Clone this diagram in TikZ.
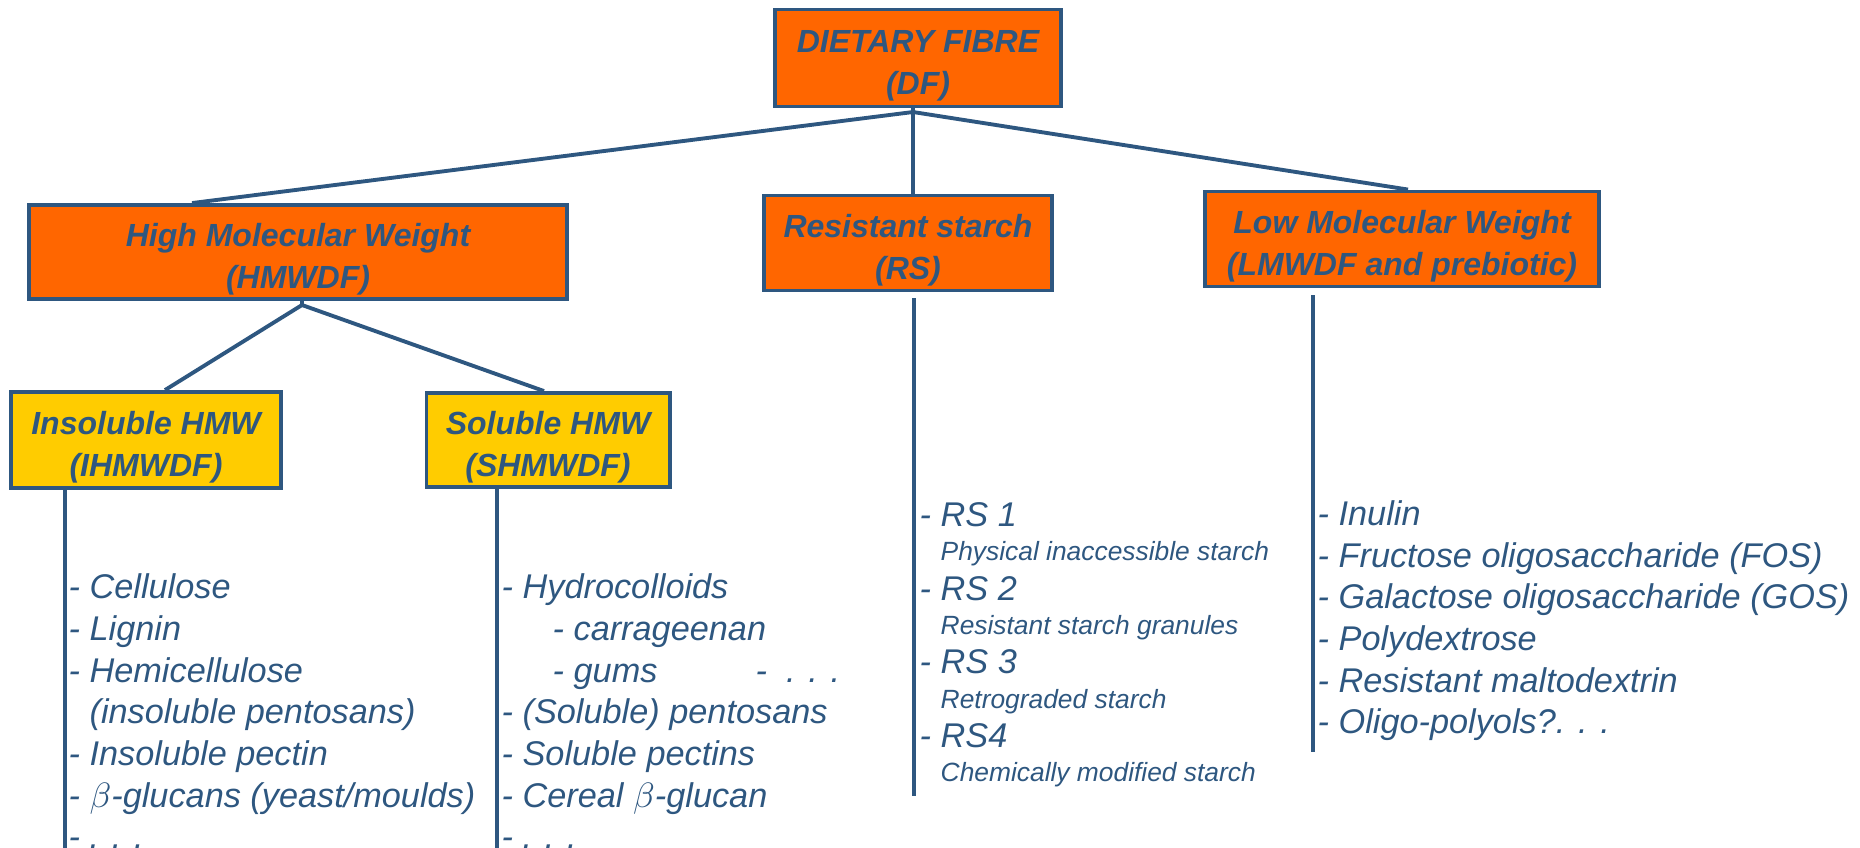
\documentclass[tikz,border=0pt]{standalone}
\usepackage{fontspec}
\setmainfont{Liberation Sans}
\usetikzlibrary{calc}

\definecolor{dfblue}{HTML}{2E5780}
\definecolor{dforange}{HTML}{FF6600}
\definecolor{dfyellow}{HTML}{FFCC00}

% strut that pushes the box text a little down
\newcommand{\boxstrut}{\rule{0pt}{10.6pt}}

\tikzset{
  orangebox/.style={draw=dfblue, line width=1.1pt, fill=dforange, align=center,
    inner sep=0pt, text=dfblue, font=\bfseries\itshape\fontsize{9.1}{11.8}\selectfont},
  yellowbox/.style={orangebox, fill=dfyellow},
  item/.style={anchor=base west, inner sep=0pt, text=dfblue,
    font=\itshape\fontsize{9.75}{11.8}\selectfont},
  smallitem/.style={item, font=\itshape\fontsize{7.5}{9}\selectfont},
  link/.style={draw=dfblue, line width=1.1pt}
}

\begin{document}
\begin{tikzpicture}[x=0.01cm, y=-0.01cm]

% Fix the page to the picture size (pixels, y pointing down)
\clip (0,0) rectangle (1860,847);

% Define the boxes
\node[orangebox, minimum width=2.86cm, minimum height=0.97cm] (df) at (918,58) {\boxstrut DIETARY FIBRE\\(DF)};
\node[orangebox, minimum width=5.38cm, minimum height=0.94cm] (hmw) at (298,252) {\boxstrut High Molecular Weight\\(HMWDF)};
\node[orangebox, minimum width=2.87cm, minimum height=0.95cm] (rs) at (908,243) {\boxstrut Resistant starch\\(RS)};
\node[orangebox, minimum width=3.93cm, minimum height=0.95cm] (lmw) at (1402,239) {\boxstrut Low Molecular Weight\\(LMWDF and prebiotic)};
\node[yellowbox, minimum width=2.70cm, minimum height=0.96cm] (insol) at (146,440) {\boxstrut Insoluble HMW\\(IHMWDF)};
\node[yellowbox, minimum width=2.43cm, minimum height=0.94cm] (sol) at (548,440) {\boxstrut Soluble HMW\\(SHMWDF)};

% Define the joints and the free ends of the lines
\coordinate (dfj) at (913,112);
\coordinate (hmwj) at (302,305);
\coordinate (insolend) at (65,850);
\coordinate (solend) at (497,850);
\coordinate (rstop) at (914,298);
\coordinate (rsend) at (914,796);
\coordinate (lmwtop) at (1313,295);
\coordinate (lmwend) at (1313,752);

% Draw the tree lines
\draw[link] (dfj) -- ($(hmw.north)+(-106,0)$);
\draw[link] (df.south -| dfj) -- (dfj) -- (dfj |- rs.north);
\draw[link] (dfj) -- ($(lmw.north)+(6,0)$);
\draw[link] (hmw.south -| hmwj) -- (hmwj);
\draw[link] (hmwj) -- ($(insol.north)+(19,0)$);
\draw[link] (hmwj) -- ($(sol.north)+(-4,0)$);

% Draw the vertical list lines
\draw[link] (insol.south -| insolend) -- (insolend);
\draw[link] (sol.south -| solend) -- (solend);
\draw[link] (rstop) -- (rsend);
\draw[link] (lmwtop) -- (lmwend);

% Insoluble list
\foreach \y/\t [count=\i] in {598/{- Cellulose}, 640/{- Lignin}, 682/{- Hemicellulose},
    723/{\phantom{- }(insoluble pentosans)}, 765/{- Insoluble pectin},
    807/{- $\beta$-glucans (yeast/moulds)}, 848/{- . . .}}
  \node[item] (ins\i) at (68,\y) {\t};

% Soluble list
\foreach \y/\t [count=\i] in {598/{- Hydrocolloids}, 723/{- (Soluble) pentosans},
    765/{- Soluble pectins}, 807/{- Cereal $\beta$-glucan}, 848/{- . . .}}
  \node[item] (sl\i) at (501,\y) {\t};
\node[item] (carr) at (552,640) {- carrageenan};
\node[item] (gums) at (552,682) {- gums};
\node[item] (gumsmore) at (755,682) {-\ \ . . .};

% Resistant starch list
\foreach \y/\t [count=\i] in {526/{RS 1}, 600/{RS 2}, 673/{RS 3}, 747/{RS4}}
  \node[item] (rs\i) at (919,\y) {- \t};
\foreach \y/\t [count=\i] in {560/{Physical inaccessible starch}, 634/{Resistant starch granules},
    708/{Retrograded starch}, 781/{Chemically modified starch}}
  \node[smallitem] (rsd\i) at (940,\y) {\t};

% Low molecular weight list
\foreach \y/\t [count=\i] in {525/{Inulin}, 567/{Fructose oligosaccharide (FOS)},
    608/{Galactose oligosaccharide (GOS)}, 650/{Polydextrose},
    692/{Resistant maltodextrin}, 733/{Oligo-polyols?. . .}}
  \node[item] (lm\i) at (1317,\y) {- \t};

\end{tikzpicture}
\end{document}
